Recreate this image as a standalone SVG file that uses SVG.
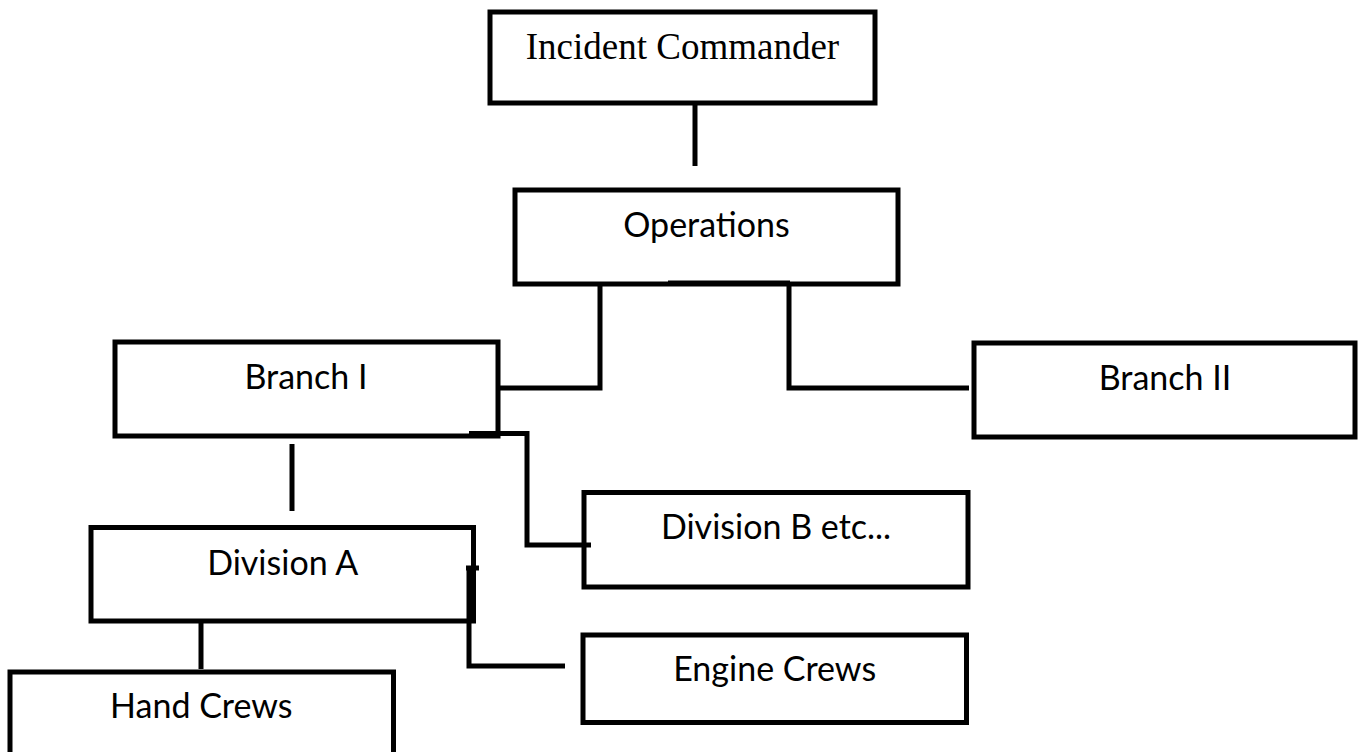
<svg xmlns="http://www.w3.org/2000/svg" width="1364" height="752" viewBox="0 0 1364 752">
<style>
.box{fill:#fff;stroke:#000;stroke-width:5}
.lbl{font-family:Lato,"Open Sans",sans-serif;font-size:34px;fill:#000;text-anchor:middle}
.ser{font-family:"Liberation Serif","Times New Roman",serif;font-size:37px;fill:#000;text-anchor:middle}
.con{fill:none;stroke:#000;stroke-width:5;stroke-linecap:butt;stroke-linejoin:miter}
</style>
<rect width="1364" height="752" fill="#fff"/>
<g id="node-ic"><rect class="box" x="490" y="12" width="385" height="91"/><text class="ser" x="682.5" y="59">Incident Commander</text></g>
<g id="node-ops"><rect class="box" x="515" y="190" width="383" height="94"/><text class="lbl" x="706.5" y="237">Operations</text></g>
<g id="node-branch1"><rect class="box" x="115" y="342" width="383" height="94"/><text class="lbl" x="306" y="389">Branch I</text></g>
<g id="node-branch2"><rect class="box" x="974" y="343" width="381" height="94"/><text class="lbl" x="1165" y="390">Branch II</text></g>
<g id="node-divb"><rect class="box" x="584" y="492.5" width="384" height="94.5"/><text class="lbl" x="776" y="539">Division B etc...</text></g>
<g id="node-diva"><rect class="box" x="91" y="527.5" width="382.5" height="93.5"/><text class="lbl" x="282.7" y="575">Division A</text></g>
<g id="node-engine"><rect class="box" x="583" y="635" width="383.5" height="87.5"/><text class="lbl" x="774.7" y="681">Engine Crews</text></g>
<g id="node-hand"><rect class="box" x="10" y="672" width="383.5" height="100"/><text class="lbl" x="201.3" y="718">Hand Crews</text></g>
<g id="connectors">
<path class="con" d="M695,103 V166"/>
<path class="con" d="M668,283 H790"/>
<path class="con" d="M600,284 V388 H498"/>
<path class="con" d="M789,284 V388 H969"/>
<path class="con" d="M292,444 V511"/>
<path class="con" d="M469,433.5 H527 V545 H591"/>
<path class="con" d="M201,621 V669"/>
<path class="con" d="M469,567 V666 H565"/>
<path class="con" d="M466,568 H479"/>
</g>
</svg>
